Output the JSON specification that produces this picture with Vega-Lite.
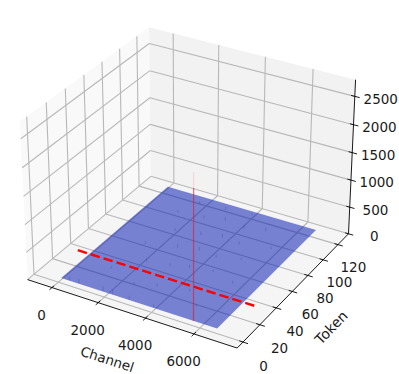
{"$schema":"https://vega.github.io/schema/vega-lite/v6.json","width":399,"height":374,"padding":0,"autosize":{"type":"none"},"background":"white","config":{"view":{"stroke":null}},
"data":{"values":[
{"kind":"pane","name":"left","o":1,"Channel":-1076,"Token":-6.8,"Value":0},{"kind":"pane","name":"left","o":2,"Channel":-1076,"Token":134.5,"Value":0},{"kind":"pane","name":"left","o":3,"Channel":-1076,"Token":134.5,"Value":2790},{"kind":"pane","name":"left","o":4,"Channel":-1076,"Token":-6.8,"Value":2790},
{"kind":"pane2","name":"back","o":1,"Channel":-1076,"Token":134.5,"Value":0},{"kind":"pane2","name":"back","o":2,"Channel":7742,"Token":134.5,"Value":0},{"kind":"pane2","name":"back","o":3,"Channel":7742,"Token":134.5,"Value":2790},{"kind":"pane2","name":"back","o":4,"Channel":-1076,"Token":134.5,"Value":2790},
{"kind":"pane3","name":"floor","o":1,"Channel":-1076,"Token":-6.8,"Value":0},{"kind":"pane3","name":"floor","o":2,"Channel":7742,"Token":-6.8,"Value":0},{"kind":"pane3","name":"floor","o":3,"Channel":7742,"Token":134.5,"Value":0},{"kind":"pane3","name":"floor","o":4,"Channel":-1076,"Token":134.5,"Value":0},
{"kind":"grid","Channel":0,"Token":-6.8,"Value":0,"Channel2":0,"Token2":134.5,"Value2":0},{"kind":"grid","Channel":0,"Token":134.5,"Value":0,"Channel2":0,"Token2":134.5,"Value2":2790},
{"kind":"grid","Channel":2000,"Token":-6.8,"Value":0,"Channel2":2000,"Token2":134.5,"Value2":0},{"kind":"grid","Channel":2000,"Token":134.5,"Value":0,"Channel2":2000,"Token2":134.5,"Value2":2790},
{"kind":"grid","Channel":4000,"Token":-6.8,"Value":0,"Channel2":4000,"Token2":134.5,"Value2":0},{"kind":"grid","Channel":4000,"Token":134.5,"Value":0,"Channel2":4000,"Token2":134.5,"Value2":2790},
{"kind":"grid","Channel":6000,"Token":-6.8,"Value":0,"Channel2":6000,"Token2":134.5,"Value2":0},{"kind":"grid","Channel":6000,"Token":134.5,"Value":0,"Channel2":6000,"Token2":134.5,"Value2":2790},
{"kind":"grid","Channel":-1076,"Token":0,"Value":0,"Channel2":7742,"Token2":0,"Value2":0},{"kind":"grid","Channel":-1076,"Token":0,"Value":0,"Channel2":-1076,"Token2":0,"Value2":2790},
{"kind":"grid","Channel":-1076,"Token":20,"Value":0,"Channel2":7742,"Token2":20,"Value2":0},{"kind":"grid","Channel":-1076,"Token":20,"Value":0,"Channel2":-1076,"Token2":20,"Value2":2790},
{"kind":"grid","Channel":-1076,"Token":40,"Value":0,"Channel2":7742,"Token2":40,"Value2":0},{"kind":"grid","Channel":-1076,"Token":40,"Value":0,"Channel2":-1076,"Token2":40,"Value2":2790},
{"kind":"grid","Channel":-1076,"Token":60,"Value":0,"Channel2":7742,"Token2":60,"Value2":0},{"kind":"grid","Channel":-1076,"Token":60,"Value":0,"Channel2":-1076,"Token2":60,"Value2":2790},
{"kind":"grid","Channel":-1076,"Token":80,"Value":0,"Channel2":7742,"Token2":80,"Value2":0},{"kind":"grid","Channel":-1076,"Token":80,"Value":0,"Channel2":-1076,"Token2":80,"Value2":2790},
{"kind":"grid","Channel":-1076,"Token":100,"Value":0,"Channel2":7742,"Token2":100,"Value2":0},{"kind":"grid","Channel":-1076,"Token":100,"Value":0,"Channel2":-1076,"Token2":100,"Value2":2790},
{"kind":"grid","Channel":-1076,"Token":120,"Value":0,"Channel2":7742,"Token2":120,"Value2":0},{"kind":"grid","Channel":-1076,"Token":120,"Value":0,"Channel2":-1076,"Token2":120,"Value2":2790},
{"kind":"grid","Channel":-1076,"Token":-6.8,"Value":500,"Channel2":-1076,"Token2":134.5,"Value2":500},{"kind":"grid","Channel":-1076,"Token":134.5,"Value":500,"Channel2":7742,"Token2":134.5,"Value2":500},
{"kind":"grid","Channel":-1076,"Token":-6.8,"Value":1000,"Channel2":-1076,"Token2":134.5,"Value2":1000},{"kind":"grid","Channel":-1076,"Token":134.5,"Value":1000,"Channel2":7742,"Token2":134.5,"Value2":1000},
{"kind":"grid","Channel":-1076,"Token":-6.8,"Value":1500,"Channel2":-1076,"Token2":134.5,"Value2":1500},{"kind":"grid","Channel":-1076,"Token":134.5,"Value":1500,"Channel2":7742,"Token2":134.5,"Value2":1500},
{"kind":"grid","Channel":-1076,"Token":-6.8,"Value":2000,"Channel2":-1076,"Token2":134.5,"Value2":2000},{"kind":"grid","Channel":-1076,"Token":134.5,"Value":2000,"Channel2":7742,"Token2":134.5,"Value2":2000},
{"kind":"grid","Channel":-1076,"Token":-6.8,"Value":2500,"Channel2":-1076,"Token2":134.5,"Value2":2500},{"kind":"grid","Channel":-1076,"Token":134.5,"Value":2500,"Channel2":7742,"Token2":134.5,"Value2":2500},
{"kind":"grid","Channel":-1076,"Token":-6.8,"Value":0,"Channel2":-1076,"Token2":134.5,"Value2":0},{"kind":"grid","Channel":-1076,"Token":134.5,"Value":0,"Channel2":7742,"Token2":134.5,"Value2":0},
{"kind":"surface","name":"surface","o":1,"Channel":-60,"Token":4.5,"Value":0},{"kind":"surface","name":"surface","o":2,"Channel":6540,"Token":4.5,"Value":0},{"kind":"surface","name":"surface","o":3,"Channel":6540,"Token":128.5,"Value":0},{"kind":"surface","name":"surface","o":4,"Channel":-60,"Token":128.5,"Value":0},
{"kind":"spike","Channel":290,"Token":5,"Value":70,"Channel2":290,"Token2":5,"Value2":0},{"kind":"spike","Channel":700,"Token":5,"Value":80,"Channel2":700,"Token2":5,"Value2":0},{"kind":"spike","Channel":1750,"Token":5,"Value":90,"Channel2":1750,"Token2":5,"Value2":0},{"kind":"spike","Channel":2160,"Token":5,"Value":80,"Channel2":2160,"Token2":5,"Value2":0},{"kind":"spike","Channel":2870,"Token":5,"Value":70,"Channel2":2870,"Token2":5,"Value2":0},{"kind":"spike","Channel":3900,"Token":5,"Value":60,"Channel2":3900,"Token2":5,"Value2":0},{"kind":"spike","Channel":2500,"Token":20,"Value":50,"Channel2":2500,"Token2":20,"Value2":0},{"kind":"spike","Channel":3300,"Token":25,"Value":60,"Channel2":3300,"Token2":25,"Value2":0},{"kind":"spike","Channel":1200,"Token":28,"Value":50,"Channel2":1200,"Token2":28,"Value2":0},{"kind":"spike","Channel":4500,"Token":30,"Value":50,"Channel2":4500,"Token2":30,"Value2":0},{"kind":"spike","Channel":5200,"Token":18,"Value":50,"Channel2":5200,"Token2":18,"Value2":0},{"kind":"spike","Channel":2100,"Token":45,"Value":60,"Channel2":2100,"Token2":45,"Value2":0},{"kind":"spike","Channel":3000,"Token":48,"Value":50,"Channel2":3000,"Token2":48,"Value2":0},{"kind":"spike","Channel":3700,"Token":52,"Value":60,"Channel2":3700,"Token2":52,"Value2":0},{"kind":"spike","Channel":4600,"Token":55,"Value":50,"Channel2":4600,"Token2":55,"Value2":0},{"kind":"spike","Channel":5600,"Token":50,"Value":50,"Channel2":5600,"Token2":50,"Value2":0},{"kind":"spike","Channel":1400,"Token":62,"Value":50,"Channel2":1400,"Token2":62,"Value2":0},{"kind":"spike","Channel":2600,"Token":68,"Value":70,"Channel2":2600,"Token2":68,"Value2":0},{"kind":"spike","Channel":3400,"Token":72,"Value":70,"Channel2":3400,"Token2":72,"Value2":0},{"kind":"spike","Channel":4200,"Token":70,"Value":60,"Channel2":4200,"Token2":70,"Value2":0},{"kind":"spike","Channel":5100,"Token":75,"Value":50,"Channel2":5100,"Token2":75,"Value2":0},{"kind":"spike","Channel":1900,"Token":84,"Value":60,"Channel2":1900,"Token2":84,"Value2":0},{"kind":"spike","Channel":2900,"Token":88,"Value":70,"Channel2":2900,"Token2":88,"Value2":0},{"kind":"spike","Channel":3700,"Token":92,"Value":70,"Channel2":3700,"Token2":92,"Value2":0},{"kind":"spike","Channel":4500,"Token":90,"Value":60,"Channel2":4500,"Token2":90,"Value2":0},{"kind":"spike","Channel":5700,"Token":95,"Value":50,"Channel2":5700,"Token2":95,"Value2":0},{"kind":"spike","Channel":1300,"Token":104,"Value":50,"Channel2":1300,"Token2":104,"Value2":0},{"kind":"spike","Channel":2400,"Token":106,"Value":60,"Channel2":2400,"Token2":106,"Value2":0},{"kind":"spike","Channel":3200,"Token":110,"Value":70,"Channel2":3200,"Token2":110,"Value2":0},{"kind":"spike","Channel":4100,"Token":108,"Value":60,"Channel2":4100,"Token2":108,"Value2":0},{"kind":"spike","Channel":4900,"Token":112,"Value":60,"Channel2":4900,"Token2":112,"Value2":0},{"kind":"spike","Channel":1700,"Token":120,"Value":50,"Channel2":1700,"Token2":120,"Value2":0},{"kind":"spike","Channel":2800,"Token":122,"Value":50,"Channel2":2800,"Token2":122,"Value2":0},{"kind":"spike","Channel":3900,"Token":124,"Value":50,"Channel2":3900,"Token2":124,"Value2":0},
{"kind":"peak","Channel":5578,"Token":4.4,"Value":0,"Channel2":5578,"Token2":4.4,"Value2":2317},
{"kind":"peakfaint","Channel":5578,"Token":4.4,"Value":2317,"Channel2":5578,"Token2":4.4,"Value2":2584},
{"kind":"threshold","Channel":-580,"Token":35.6,"Value":0,"Channel2":6986,"Token2":35.6,"Value2":0},
{"kind":"axis","Channel":-1076,"Token":-6.8,"Value":0,"Channel2":7742,"Token2":-6.8,"Value2":0},{"kind":"axis","Channel":7742,"Token":-6.8,"Value":0,"Channel2":7742,"Token2":134.5,"Value2":0},{"kind":"axis","Channel":7742,"Token":134.5,"Value":0,"Channel2":7742,"Token2":134.5,"Value2":2790},
{"kind":"tickx","label":"0","Channel":0,"Token":-9.5,"Value":0,"Channel2":0,"Token2":-4.5,"Value2":0},{"kind":"tickx","label":"2000","Channel":2000,"Token":-9.5,"Value":0,"Channel2":2000,"Token2":-4.5,"Value2":0},{"kind":"tickx","label":"4000","Channel":4000,"Token":-9.5,"Value":0,"Channel2":4000,"Token2":-4.5,"Value2":0},{"kind":"tickx","label":"6000","Channel":6000,"Token":-9.5,"Value":0,"Channel2":6000,"Token2":-4.5,"Value2":0},
{"kind":"ticky","label":"0","Channel":7942,"Token":0,"Value":0,"Channel2":7592,"Token2":0,"Value2":0},{"kind":"ticky","label":"20","Channel":7942,"Token":20,"Value":0,"Channel2":7592,"Token2":20,"Value2":0},{"kind":"ticky","label":"40","Channel":7942,"Token":40,"Value":0,"Channel2":7592,"Token2":40,"Value2":0},{"kind":"ticky","label":"60","Channel":7942,"Token":60,"Value":0,"Channel2":7592,"Token2":60,"Value2":0},{"kind":"ticky","label":"80","Channel":7942,"Token":80,"Value":0,"Channel2":7592,"Token2":80,"Value2":0},{"kind":"ticky","label":"100","Channel":7942,"Token":100,"Value":0,"Channel2":7592,"Token2":100,"Value2":0},{"kind":"ticky","label":"120","Channel":7942,"Token":120,"Value":0,"Channel2":7592,"Token2":120,"Value2":0},
{"kind":"tickz","label":"0","Channel":7942,"Token":134.5,"Value":0,"Channel2":7592,"Token2":134.5,"Value2":0},{"kind":"tickz","label":"500","Channel":7942,"Token":134.5,"Value":500,"Channel2":7592,"Token2":134.5,"Value2":500},{"kind":"tickz","label":"1000","Channel":7942,"Token":134.5,"Value":1000,"Channel2":7592,"Token2":134.5,"Value2":1000},{"kind":"tickz","label":"1500","Channel":7942,"Token":134.5,"Value":1500,"Channel2":7592,"Token2":134.5,"Value2":1500},{"kind":"tickz","label":"2000","Channel":7942,"Token":134.5,"Value":2000,"Channel2":7592,"Token2":134.5,"Value2":2000},{"kind":"tickz","label":"2500","Channel":7942,"Token":134.5,"Value":2500,"Channel2":7592,"Token2":134.5,"Value2":2500},
{"kind":"titlex","label":"Channel","Channel":3333,"Token":-6.8,"Value":0},
{"kind":"titley","label":"Token","Channel":7742,"Token":64,"Value":0}
]},
"transform":[
{"calculate":"2*(datum.Channel+1076)/8818-1","as":"a"},
{"calculate":"2*(datum.Token+6.8)/141.3-1","as":"b"},
{"calculate":"2*datum.Value/2790-1","as":"c"},
{"calculate":"10-(0.2577*datum.a-0.4464*datum.b+0.2232*datum.c)","as":"den"},
{"calculate":"191+2017*(0.5155*datum.a+0.2976*datum.b)/datum.den","as":"px"},
{"calculate":"180-2017*(-0.1488*datum.a+0.2577*datum.b+0.3866*datum.c)/datum.den","as":"py"},
{"calculate":"2*(datum.Channel2+1076)/8818-1","as":"a2"},
{"calculate":"2*(datum.Token2+6.8)/141.3-1","as":"b2"},
{"calculate":"2*datum.Value2/2790-1","as":"c2"},
{"calculate":"10-(0.2577*datum.a2-0.4464*datum.b2+0.2232*datum.c2)","as":"den2"},
{"calculate":"191+2017*(0.5155*datum.a2+0.2976*datum.b2)/datum.den2","as":"px2"},
{"calculate":"180-2017*(-0.1488*datum.a2+0.2577*datum.b2+0.3866*datum.c2)/datum.den2","as":"py2"}
],
"encoding":{"x":{"field":"px","type":"quantitative","axis":null,"scale":{"domain":[0,399],"nice":false,"zero":false}},"y":{"field":"py","type":"quantitative","axis":null,"scale":{"domain":[374,0],"nice":false,"zero":false}}},
"layer":[
{"transform":[{"filter":"datum.kind==='pane'"}],"mark":{"type":"line","fill":"#f9f9f9","strokeWidth":0},"encoding":{"order":{"field":"o"}}},
{"transform":[{"filter":"datum.kind==='pane2'"}],"mark":{"type":"line","fill":"#f2f2f2","strokeWidth":0},"encoding":{"order":{"field":"o"}}},
{"transform":[{"filter":"datum.kind==='pane3'"}],"mark":{"type":"line","fill":"#f5f5f5","strokeWidth":0},"encoding":{"order":{"field":"o"}}},
{"transform":[{"filter":"datum.kind==='grid'"}],"mark":{"type":"rule","stroke":"#b8b8b8","strokeWidth":1.1},"encoding":{"x2":{"field":"px2"},"y2":{"field":"py2"}}},
{"transform":[{"filter":"datum.kind==='surface'"}],"mark":{"type":"line","fill":"#0c20b2","fillOpacity":0.55,"strokeWidth":0},"encoding":{"order":{"field":"o"}}},
{"transform":[{"filter":"datum.kind==='spike'"}],"mark":{"type":"rule","stroke":"#1a2a9a","strokeWidth":0.7,"opacity":0.35},"encoding":{"x2":{"field":"px2"},"y2":{"field":"py2"}}},
{"transform":[{"filter":"datum.kind==='peak'"}],"mark":{"type":"rule","stroke":"#d8203a","strokeWidth":1.2,"opacity":0.65},"encoding":{"x2":{"field":"px2"},"y2":{"field":"py2"}}},
{"transform":[{"filter":"datum.kind==='peakfaint'"}],"mark":{"type":"rule","stroke":"#ff4060","strokeWidth":1,"opacity":0.2},"encoding":{"x2":{"field":"px2"},"y2":{"field":"py2"}}},
{"transform":[{"filter":"datum.kind==='threshold'"}],"mark":{"type":"rule","stroke":"#ff0000","strokeWidth":2.4,"strokeDash":[9.5,4]},"encoding":{"x2":{"field":"px2"},"y2":{"field":"py2"}}},
{"transform":[{"filter":"datum.kind==='axis'||datum.kind==='tickx'||datum.kind==='ticky'||datum.kind==='tickz'"}],"mark":{"type":"rule","stroke":"#000000","strokeWidth":0.9},"encoding":{"x2":{"field":"px2"},"y2":{"field":"py2"}}},
{"transform":[{"filter":"datum.kind==='tickx'"},{"calculate":"datum.px-8","as":"px"},{"calculate":"datum.py+26","as":"py"}],"mark":{"type":"text","font":"DejaVu Sans","fontSize":13.5,"fill":"#1a1a1a","align":"center","baseline":"middle"},"encoding":{"text":{"field":"label"}}},
{"transform":[{"filter":"datum.kind==='ticky'"},{"calculate":"datum.px+15.5-datum.Token*0.04","as":"px"},{"calculate":"datum.py+23-datum.Token*0.01","as":"py"}],"mark":{"type":"text","font":"DejaVu Sans","fontSize":13.5,"fill":"#1a1a1a","align":"center","baseline":"middle"},"encoding":{"text":{"field":"label"}}},
{"transform":[{"filter":"datum.kind==='tickz'"},{"calculate":"datum.px+21","as":"px"},{"calculate":"datum.py+2","as":"py"}],"mark":{"type":"text","font":"DejaVu Sans","fontSize":13.5,"fill":"#1a1a1a","align":"center","baseline":"middle"},"encoding":{"text":{"field":"label"}}},
{"transform":[{"filter":"datum.kind==='titlex'"},{"calculate":"datum.px-22.6","as":"px"},{"calculate":"datum.py+47","as":"py"}],"mark":{"type":"text","font":"DejaVu Sans","fontSize":13.5,"fill":"#1a1a1a","align":"center","baseline":"middle","angle":18},"encoding":{"text":{"field":"label"}}},
{"transform":[{"filter":"datum.kind==='titley'"},{"calculate":"datum.px+36.6","as":"px"},{"calculate":"datum.py+39.8","as":"py"}],"mark":{"type":"text","font":"DejaVu Sans","fontSize":14,"fill":"#1a1a1a","align":"center","baseline":"middle","angle":314},"encoding":{"text":{"field":"label"}}}
]}
